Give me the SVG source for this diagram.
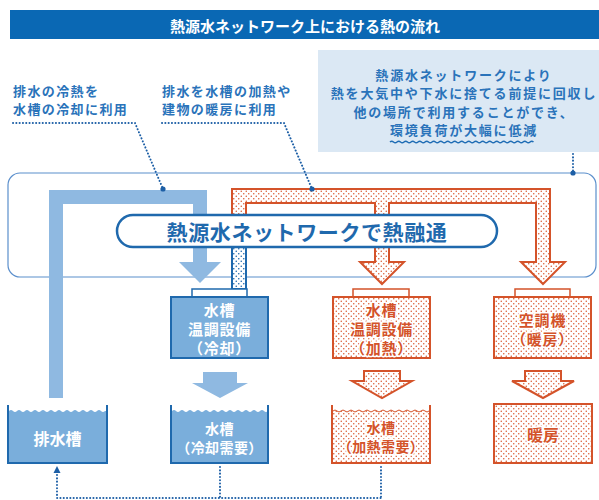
<svg xmlns="http://www.w3.org/2000/svg" width="599" height="500" viewBox="0 0 599 500">
<style>
text{font-family:"Noto Sans CJK JP","Noto Sans CJK SC",sans-serif;font-weight:700;dominant-baseline:central}
.ann{fill:#2a73ba;font-size:13px;letter-spacing:1.4px}
.note{fill:#2a73ba;font-size:13px;letter-spacing:1.8px;text-anchor:middle}
.wt{fill:#fff;text-anchor:middle}
.ot{fill:#d4532a;text-anchor:middle;stroke:#fff;stroke-width:3px;paint-order:stroke;stroke-linejoin:round}
.bx{font-size:15px;letter-spacing:0.8px}
.tk{font-size:14px;letter-spacing:0.4px}
.dotline{fill:none;stroke:#1d5fa6;stroke-width:2;stroke-dasharray:0.1 3.2;stroke-linecap:round}
.bluebox{fill:#7aaedb;stroke:#1f69ad;stroke-width:2}
.orbox{fill:url(#dots);stroke:#d4532a;stroke-width:2}
.bcap{fill:#fff;stroke:#1f69ad;stroke-width:1.5}
.ocap{fill:#fff;stroke:#d4532a;stroke-width:1.5}
.bpipe{fill:#8fb9e1}
.opipe{fill:url(#dots);stroke:#d4532a;stroke-width:2;stroke-linejoin:miter}
.wall{fill:none;stroke:#1f69ad;stroke-width:2}
.owall{fill:none;stroke:#d4532a;stroke-width:2}
</style>
<defs>
<pattern id="dots" width="5" height="5" patternUnits="userSpaceOnUse">
<rect width="5" height="5" fill="#fff"/>
<circle cx="1.25" cy="1.25" r="0.75" fill="#d9572c"/>
<circle cx="3.75" cy="3.75" r="0.75" fill="#d9572c"/>
</pattern>
<pattern id="bdots" width="5" height="5" patternUnits="userSpaceOnUse">
<rect width="5" height="5" fill="#fff"/>
<circle cx="1.25" cy="1.25" r="0.8" fill="#1f69ad"/>
<circle cx="3.75" cy="3.75" r="0.8" fill="#1f69ad"/>
</pattern>
</defs>

<g id="title">
<rect x="10" y="10" width="589" height="29" fill="#0a68b4"/>
<text x="305" y="25" class="wt" font-size="15">熱源水ネットワーク上における熱の流れ</text>
</g>

<g id="note">
<rect x="318" y="50" width="281" height="102" fill="#dbe8f4"/>
<text x="464" y="74" class="note">熱源水ネットワークにより</text>
<text x="464" y="92.5" class="note">熱を大気中や下水に捨てる前提に回収し</text>
<text x="464" y="111" class="note">他の場所で利用することができ、</text>
<text x="464" y="129" class="note">環境負荷が大幅に低減</text>
<path d="M390,142 q1.75,-1.5 3.5,0 t3.5,0 t3.5,0 t3.5,0 t3.5,0 t3.5,0 t3.5,0 t3.5,0 t3.5,0 t3.5,0 t3.5,0 t3.5,0 t3.5,0 t3.5,0 t3.5,0 t3.5,0 t3.5,0 t3.5,0 t3.5,0 t3.5,0 t3.5,0 t3.5,0 t3.5,0 t3.5,0 t3.5,0 t3.5,0 t3.5,0 t3.5,0 t3.5,0 t3.5,0 t3.5,0 t3.5,0 t3.5,0 t3.5,0 t3.5,0 t3.5,0 t3.5,0 t3.5,0 t3.5,0 t3.5,0 t3.5,0" fill="none" stroke="#1f6db5" stroke-width="1.5"/>
</g>

<g id="ann-cool">
<text x="13" y="90" class="ann">排水の冷熱を</text>
<text x="13" y="108" class="ann">水槽の冷却に利用</text>
</g>
<g id="ann-heat">
<text x="162" y="90" class="ann">排水を水槽の加熱や</text>
<text x="162" y="108" class="ann">建物の暖房に利用</text>
</g>

<g id="network">
<rect x="8" y="173" width="588" height="104" rx="12" fill="#fff" stroke="#5b8fcc" stroke-width="1.2"/>
</g>

<g id="connectors">
<path class="bpipe" d="M49,398 V190 H207 V262 H221 L200,283 L179,262 H193 V204 H63 V398 Z"/>
<path class="opipe" d="M232,235 V189 H550 V262 H565 L543,284 L521,262 H536 V203 H389 V262 H404 L382,284 L360,262 H375 V203 H246 V235 Z"/>
<rect x="232" y="240" width="14" height="49" fill="url(#bdots)" stroke="#1f69ad" stroke-width="2"/>
<path class="bpipe" d="M203,372 H237 V383 H248 L220,398 L192,383 H203 Z"/>
<path class="opipe" d="M364,371 H400 V381 H412 L382,398 L352,381 H364 Z"/>
<path class="opipe" d="M525,371 H561 V381 H574 L543,398 L512,381 H525 Z"/>
<path class="dotline" d="M13,123 H135 L163,189"/>
<path class="dotline" d="M162,123 H284 L312,189"/>
<path class="dotline" d="M573,154 V173"/>
<circle cx="163" cy="189" r="2.6" fill="#1d5fa6"/>
<circle cx="312" cy="189" r="2.6" fill="#1d5fa6"/>
<circle cx="573" cy="173" r="2.6" fill="#1d5fa6"/>
<path class="dotline" d="M57,475 V498 H381 M220,467 V498 M381,467 V498"/>
<polygon points="57,466 53.5,473 60.5,473" fill="#1d5fa6"/>
</g>

<g id="label">
<rect x="117" y="215" width="380" height="32" rx="16" fill="#fff" stroke="#1f69ad" stroke-width="2.5"/>
<text x="307" y="231" font-size="21" fill="#1f69ad" text-anchor="middle" letter-spacing="0.6">熱源水ネットワークで熱融通</text>
</g>

<g id="cool-unit">
<rect x="192" y="289" width="55" height="8" class="bcap"/>
<rect x="171" y="297" width="97" height="61" class="bluebox"/>
<text x="219.5" y="309" class="wt bx">水槽</text>
<text x="219.5" y="328.5" class="wt bx">温調設備</text>
<text x="219.5" y="347.5" class="wt bx">（冷却）</text>
</g>

<g id="heat-unit">
<rect x="353" y="289" width="56" height="8" class="ocap"/>
<rect x="333" y="297" width="97" height="61" class="orbox"/>
<text x="381.5" y="309" class="ot bx">水槽</text>
<text x="381.5" y="328.5" class="ot bx">温調設備</text>
<text x="381.5" y="347.5" class="ot bx">（加熱）</text>
</g>

<g id="aircon">
<rect x="515" y="289" width="55" height="8" class="ocap"/>
<rect x="494" y="297" width="97" height="61" class="orbox"/>
<text x="542.5" y="319" class="ot bx">空調機</text>
<text x="542.5" y="338" class="ot bx">（暖房）</text>
</g>

<g id="drain-tank">
<path d="M9,463 V411 q2,-2 4,0 t4,0 t4,0 t4,0 t4,0 t4,0 t4,0 t4,0 t4,0 t4,0 t4,0 t4,0 t4,0 t4,0 t4,0 t4,0 t4,0 t4,0 t4,0 t4,0 t4,0 t4,0 t4,0 t4,0 L106,411 V463 Z" fill="#7aaedb"/>
<path d="M8,405 V463 H107 V405" class="wall"/>
<text x="57.5" y="438" class="wt" font-size="16">排水槽</text>
</g>

<g id="cool-tank">
<path d="M172,463 V411 q2,-2 4,0 t4,0 t4,0 t4,0 t4,0 t4,0 t4,0 t4,0 t4,0 t4,0 t4,0 t4,0 t4,0 t4,0 t4,0 t4,0 t4,0 t4,0 t4,0 t4,0 t4,0 t4,0 t4,0 t4,0 V463 Z" fill="#7aaedb"/>
<path d="M171,405 V463 H268 V405" class="wall"/>
<text x="219.5" y="428" class="wt tk">水槽</text>
<text x="219.5" y="447" class="wt tk">（冷却需要）</text>
</g>

<g id="heat-tank">
<path d="M333,463 V411 q2,-2 4,0 t4,0 t4,0 t4,0 t4,0 t4,0 t4,0 t4,0 t4,0 t4,0 t4,0 t4,0 t4,0 t4,0 t4,0 t4,0 t4,0 t4,0 t4,0 t4,0 t4,0 t4,0 t4,0 t4,0 V463 Z" fill="url(#dots)"/>
<path d="M333,411 q2,-2 4,0 t4,0 t4,0 t4,0 t4,0 t4,0 t4,0 t4,0 t4,0 t4,0 t4,0 t4,0 t4,0 t4,0 t4,0 t4,0 t4,0 t4,0 t4,0 t4,0 t4,0 t4,0 t4,0 t4,0" fill="none" stroke="#d4532a" stroke-width="1"/>
<path d="M332,405 V463 H430 V405" class="owall"/>
<text x="381" y="427" class="ot tk">水槽</text>
<text x="381" y="446" class="ot tk">（加熱需要）</text>
</g>

<g id="heating">
<rect x="494" y="404" width="98" height="59" class="orbox"/>
<text x="543" y="434" class="ot" font-size="16">暖房</text>
</g>
</svg>
